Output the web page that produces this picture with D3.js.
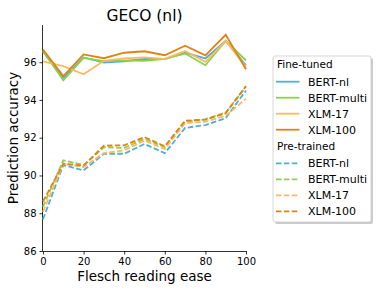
<!DOCTYPE html>
<html>
<head>
<meta charset="utf-8">
<script src="https://cdn.jsdelivr.net/npm/d3@7"></script>
<style>
  body { margin: 0; background: #fff; }
  text { font-family: "DejaVu Sans", sans-serif; fill: #000; }
</style>
</head>
<body>
<div id="my_dataviz"></div>
<script>
// data
var ease = [0, 10, 20, 30, 40, 50, 60, 70, 80, 90, 100];
var models = ["BERT-nl", "BERT-multi", "XLM-17", "XLM-100"];
var colors = ["#4eb0d6", "#8cd04e", "#fdb863", "#e08214"];

// fine-tuned accuracy
var ftBertNl    = [96.55, 95.17, 96.25, 95.98, 96.05, 96.18, 96.16, 96.50, 96.20, 97.13, 95.84];
var ftBertMulti = [96.60, 95.04, 96.23, 96.05, 96.10, 96.07, 96.18, 96.46, 95.84, 97.13, 96.09];
var ftXlm17     = [96.05, 95.79, 95.36, 96.07, 96.20, 96.25, 96.18, 96.60, 96.02, 97.13, 95.75];
var ftXlm100    = [96.67, 95.26, 96.41, 96.21, 96.50, 96.58, 96.37, 96.87, 96.36, 97.45, 95.63];

// pre-trained accuracy
var ptBertNl    = [87.68, 90.55, 90.27, 91.15, 91.15, 91.67, 91.18, 92.52, 92.67, 93.04, 94.50];
var ptBertMulti = [88.35, 90.80, 90.55, 91.50, 91.46, 91.94, 91.50, 92.85, 92.98, 93.33, 94.70];
var ptXlm17     = [88.08, 90.62, 90.45, 91.19, 91.33, 91.85, 91.40, 92.78, 92.85, 93.16, 94.07];
var ptXlm100    = [88.62, 90.62, 90.52, 91.58, 91.60, 92.03, 91.55, 92.90, 92.96, 93.30, 94.74];

var xTicks = [0, 20, 40, 60, 80, 100];
var yTicks = [86, 88, 90, 92, 94, 96];

var fineTuned = [ftBertNl, ftBertMulti, ftXlm17, ftXlm100];
var preTrained = [ptBertNl, ptBertMulti, ptXlm17, ptXlm100];

// set the dimensions and margins of the graph
var W = 390, H = 293;
var margin = {top: 25, left: 43},
    width = 203,
    height = 226;

var svg = d3.select("#my_dataviz")
  .append("svg")
    .attr("width", W)
    .attr("height", H);

var g = svg.append("g")
    .attr("transform", "translate(" + margin.left + "," + margin.top + ")");

var x = d3.scaleLinear().domain([0, 100]).range([0, width]);
var y = d3.scaleLinear().domain([86, 97.97]).range([height, 0]);

// axes
var xAxis = g.append("g")
    .attr("transform", "translate(0," + height + ")")
    .call(d3.axisBottom(x).tickValues(xTicks).tickSize(3.5).tickPadding(3));
var yAxis = g.append("g")
    .call(d3.axisLeft(y).tickValues(yTicks).tickSize(3.5).tickPadding(3));

[xAxis, yAxis].forEach(function(a) {
  a.selectAll("text").style("font-size", "10px").style("font-family", "DejaVu Sans");
  a.selectAll("line").attr("stroke", "#000").attr("stroke-width", 0.8);
  a.select(".domain").attr("stroke", "#000").attr("stroke-width", 0.8);
});
// keep spines without the outer ticks
xAxis.select(".domain").attr("d", "M0.5,0.5H" + (width + 0.5));
yAxis.select(".domain").attr("d", "M-0.5,0V" + height);

var line = d3.line()
    .x(function(d, i) { return x(ease[i]); })
    .y(function(d) { return y(d); });

// pre-trained dashed lines
preTrained.forEach(function(s, i) {
  g.append("path")
    .datum(s)
    .attr("fill", "none")
    .attr("stroke", colors[i])
    .attr("stroke-width", 1.8)
    .attr("stroke-dasharray", "5.5,2.4")
    .attr("d", line);
});

// fine-tuned solid lines
fineTuned.forEach(function(s, i) {
  g.append("path")
    .datum(s)
    .attr("fill", "none")
    .attr("stroke", colors[i])
    .attr("stroke-width", 1.8)
    .attr("d", line);
});

// title and labels
svg.append("text")
    .attr("x", margin.left + width / 2)
    .attr("y", 21)
    .attr("text-anchor", "middle")
    .style("font-size", "15.5px")
    .text("GECO (nl)");

svg.append("text")
    .attr("x", margin.left + width / 2)
    .attr("y", 281)
    .attr("text-anchor", "middle")
    .style("font-size", "13.5px")
    .text("Flesch reading ease");

svg.append("text")
    .attr("transform", "translate(18," + (margin.top + height / 2) + ") rotate(-90)")
    .attr("text-anchor", "middle")
    .style("font-size", "13.5px")
    .text("Prediction accuracy");

// legend
var lg = svg.append("g").attr("transform", "translate(273,56)");
var lw = 98, lh = 166;
lg.append("rect")
    .attr("x", 2).attr("y", 2)
    .attr("width", lw).attr("height", lh)
    .attr("rx", 2)
    .attr("fill", "#999").attr("opacity", 0.5);
lg.append("rect")
    .attr("width", lw).attr("height", lh)
    .attr("rx", 2)
    .attr("fill", "#fff")
    .attr("stroke", "#ccc").attr("stroke-width", 0.8);

var groups = [{title: "Fine-tuned", dash: null}, {title: "Pre-trained", dash: "5.5,2.4"}];
groups.forEach(function(gr, k) {
  var top = 4.3 + k * 81.7;
  lg.append("text")
    .attr("x", 4).attr("y", top + 4)
    .attr("dy", "0.35em")
    .style("font-size", "10.5px")
    .text(gr.title);
  models.forEach(function(m, i) {
    var yy = top + 21.4 + i * 16;
    lg.append("line")
      .attr("x1", 3).attr("x2", 26.5)
      .attr("y1", yy).attr("y2", yy)
      .attr("stroke", colors[i])
      .attr("stroke-width", 1.8)
      .attr("stroke-dasharray", gr.dash);
    lg.append("text")
      .attr("x", 35).attr("y", yy)
      .attr("dy", "0.35em")
      .style("font-size", "11px")
      .text(m);
  });
});
</script>
</body>
</html>
